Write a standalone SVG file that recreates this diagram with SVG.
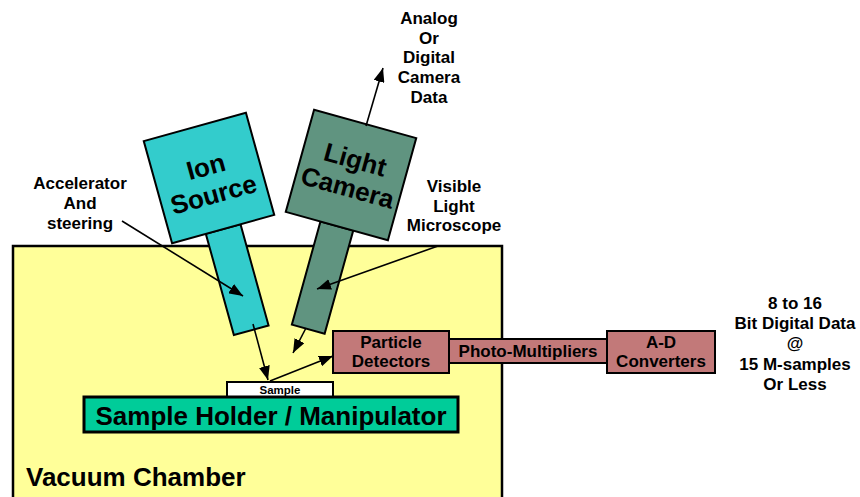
<svg xmlns="http://www.w3.org/2000/svg" width="860" height="497" viewBox="0 0 860 497">
<defs>
<style>
text{font-family:"Liberation Sans",Arial,sans-serif;font-weight:bold;fill:#000}
.lbl{font-size:17px;text-anchor:middle}
.big{font-size:26px;text-anchor:middle}
.box{stroke:#000;stroke-width:2}
.rose{fill:#C27979}
.conn{stroke:#000;stroke-width:1.6;fill:none;marker-end:url(#ah)}
</style>
<marker id="ah" markerUnits="userSpaceOnUse" markerWidth="14" markerHeight="11" refX="14" refY="5.5" orient="auto">
<path d="M0,0 L14,5.5 L0,11 Z" fill="#000"/>
</marker>
</defs>
<rect width="860" height="497" fill="#fff"/>

<g id="vacuum-chamber">
<rect x="13" y="246" width="489" height="270" fill="#FFFF99" stroke="#000" stroke-width="2.5"/>
<text x="26" y="486" style="font-size:26px">Vacuum Chamber</text>
</g>

<g id="ion-source" transform="translate(209,178) rotate(-15.5)">
<rect x="-18" y="53" width="36" height="105" fill="#33CCCC" class="box"/>
<rect x="-53" y="-53" width="106" height="106" fill="#33CCCC" class="box" stroke-width="2.5"/>
<text class="big" x="0" y="-3">Ion</text>
<text class="big" x="0" y="26">Source</text>
</g>

<g id="light-camera" transform="translate(351,175) rotate(15.5)">
<rect x="-17" y="53" width="34" height="107" fill="#609480" class="box"/>
<rect x="-53" y="-53" width="106" height="106" fill="#609480" class="box" stroke-width="2.5"/>
<text class="big" x="0" y="-7">Light</text>
<text class="big" x="0" y="22">Camera</text>
</g>

<g id="sample">
<rect x="227" y="382" width="106" height="15" fill="#fff" class="box" stroke-width="1.5"/>
<text x="280" y="394" style="font-size:11.5px;text-anchor:middle">Sample</text>
</g>

<g id="sample-holder">
<rect x="84" y="397" width="374" height="35" fill="#00CC99" stroke="#000" stroke-width="3"/>
<text x="271" y="425" style="font-size:26px;text-anchor:middle">Sample Holder / Manipulator</text>
</g>

<g id="particle-detectors">
<rect x="333" y="331" width="116" height="42" class="box rose"/>
<text class="lbl" x="391" y="348">Particle</text>
<text class="lbl" x="391" y="367">Detectors</text>
</g>

<g id="photo-multipliers">
<rect x="449" y="339" width="158" height="24" class="box rose"/>
<text class="lbl" x="528" y="357">Photo-Multipliers</text>
</g>

<g id="ad-converters">
<rect x="607" y="331" width="108" height="42" class="box rose"/>
<text class="lbl" x="661" y="348">A-D</text>
<text class="lbl" x="661" y="367">Converters</text>
</g>

<g id="camera-data-label">
<text class="lbl" x="429" y="24">Analog</text>
<text class="lbl" x="429" y="44">Or</text>
<text class="lbl" x="429" y="63">Digital</text>
<text class="lbl" x="429" y="83">Camera</text>
<text class="lbl" x="429" y="103">Data</text>
</g>

<g id="accelerator-label">
<text class="lbl" x="80" y="189">Accelerator</text>
<text class="lbl" x="80" y="209">And</text>
<text class="lbl" x="80" y="229">steering</text>
</g>

<g id="microscope-label">
<text class="lbl" x="454" y="192">Visible</text>
<text class="lbl" x="454" y="212">Light</text>
<text class="lbl" x="454" y="231">Microscope</text>
</g>

<g id="output-label">
<text class="lbl" x="795" y="309">8 to 16</text>
<text class="lbl" x="795" y="329">Bit Digital Data</text>
<text class="lbl" x="795" y="349">@</text>
<text class="lbl" x="795" y="370">15 M-samples</text>
<text class="lbl" x="795" y="390">Or Less</text>
</g>

<g id="connectors">
<line class="conn" x1="366" y1="126" x2="383" y2="68"/>
<line class="conn" x1="122" y1="221" x2="243" y2="296"/>
<line class="conn" x1="438" y1="246" x2="317" y2="289"/>
<line class="conn" x1="253" y1="324" x2="268" y2="380"/>
<line class="conn" x1="306" y1="328" x2="293" y2="353"/>
<line class="conn" x1="270" y1="381" x2="333" y2="356"/>
</g>
</svg>
